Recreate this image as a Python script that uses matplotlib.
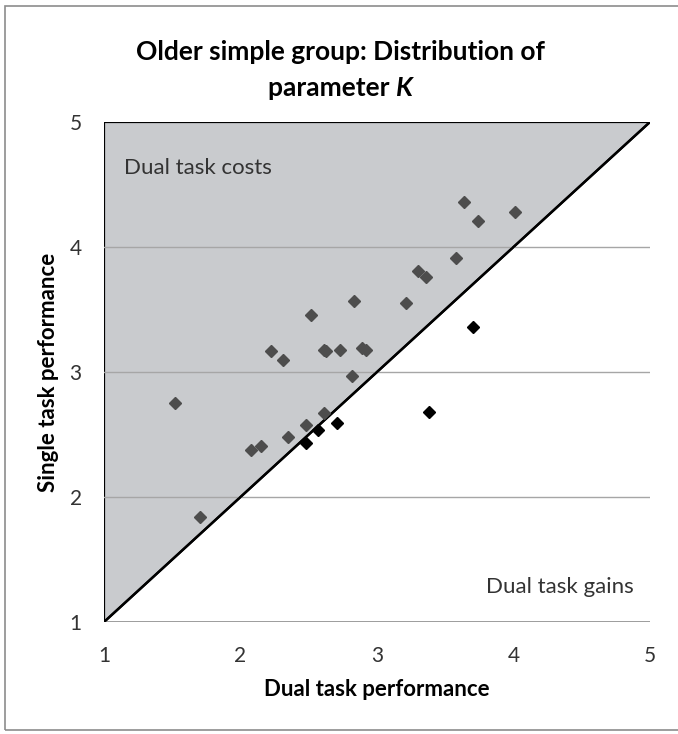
import matplotlib.pyplot as plt
import matplotlib.patches as mpatches
import numpy as np

plt.rcParams['font.family'] = ['Lato', 'DejaVu Sans']

# participants above the diagonal (dual task costs)
cost_x = [1.52, 1.70, 2.08, 2.15, 2.22, 2.31, 2.35, 2.48, 2.52, 2.61, 2.61, 2.63,
          2.73, 2.83, 2.82, 2.89, 2.92, 3.21, 3.30, 3.36, 3.58, 3.64, 3.74, 4.01]
cost_y = [2.75, 1.84, 2.38, 2.41, 3.17, 3.10, 2.48, 2.58, 3.46, 2.67, 3.18, 3.17,
          3.18, 3.57, 2.97, 3.19, 3.18, 3.55, 3.81, 3.76, 3.91, 4.36, 4.21, 4.28]

# participants below the diagonal (dual task gains)
gain_x = [2.48, 2.57, 2.71, 3.38, 3.70]
gain_y = [2.43, 2.54, 2.59, 2.68, 3.36]

ticks = [1, 2, 3, 4, 5]

fig = plt.figure(figsize=(6.78, 7.34), dpi=100)
fig.patches.append(mpatches.Rectangle((5 / 678, 4 / 734), 700 / 678, 724 / 734,
                                      transform=fig.transFigure, fill=False,
                                      edgecolor='#8c8c8c', lw=1.2))

ax = fig.add_axes([104 / 678, 1 - 622 / 734, 546 / 678, 500 / 734])
ax.set_xlim(1, 5)
ax.set_ylim(1, 5)

for yv in ticks[1:-1]:
    ax.axhline(yv, color='#a6a6a6', lw=1, zorder=1)
ax.axhline(1, color='#8c8c8c', lw=1.2, zorder=1)

tri = mpatches.Polygon([[1, 1], [1, 5], [5, 5]], closed=True, facecolor='#c9cbce',
                       edgecolor='black', lw=1.6, zorder=0.5)
ax.add_patch(tri)
ax.plot([1, 5], [1, 5], color='black', lw=1.8, zorder=2)

ax.plot(cost_x, cost_y, 'D', color='#4d4d4d', markersize=6.2, zorder=3, clip_on=False)
ax.plot(gain_x, gain_y, 'D', color='black', markersize=6.2, zorder=3, clip_on=False)

for s in ax.spines.values():
    s.set_visible(False)
ax.set_xticks(ticks)
ax.set_yticks(ticks)
ax.tick_params(length=0, labelsize=15, colors='#333333')
ax.tick_params(axis='x', pad=17)
ax.tick_params(axis='y', pad=16)
ax.set_xlabel('Dual task performance', fontsize=16, fontweight='bold', va='center')
ax.set_ylabel('Single task performance', fontsize=16, fontweight='bold', va='center')
ax.xaxis.set_label_coords(0.5, -(690 - 622) / 500)
ax.yaxis.set_label_coords(-(104 - 49) / 546, 0.5)

ax.text(1.15, 4.63, 'Dual task costs', fontsize=16, color='#333333', va='center')
ax.text(4.88, 1.28, 'Dual task gains', fontsize=16, color='#333333', va='center', ha='right')

# two-line title with a bold italic K
cx = 340 / 678
fig.text(cx, 1 - 52 / 734, 'Older simple group: Distribution of', ha='center', va='center',
         fontsize=19, fontweight='bold')
t1 = fig.text(0, 1 - 88 / 734, 'parameter ', ha='left', va='center', fontsize=19, fontweight='bold')
t2 = fig.text(0, 1 - 88 / 734, 'K', ha='left', va='center', fontsize=19, fontweight='bold',
              fontstyle='italic')
fig.canvas.draw()
r = fig.canvas.get_renderer()
w1 = t1.get_window_extent(r).width / fig.bbox.width
w2 = t2.get_window_extent(r).width / fig.bbox.width
x0 = cx - (w1 + w2) / 2
t1.set_x(x0)
t2.set_x(x0 + w1)

fig.savefig('out.png', dpi=100)
